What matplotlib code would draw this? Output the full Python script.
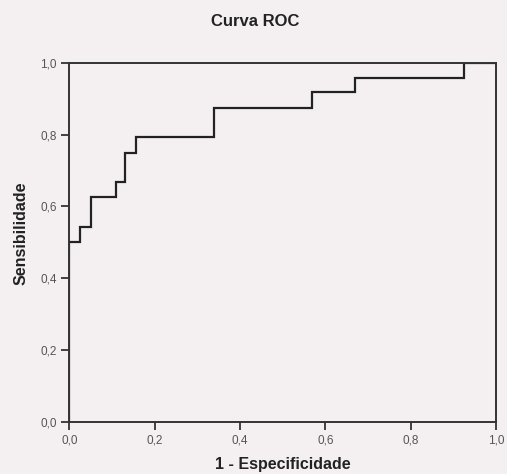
import numpy as np
import matplotlib
matplotlib.use('Agg')
import matplotlib.pyplot as plt

plt.rcParams['font.family'] = ['Liberation Sans', 'DejaVu Sans']

# pontos da curva ROC (1 - especificidade, sensibilidade)
fpr = [0.0, 0.0, 0.025, 0.025, 0.05, 0.05, 0.11, 0.11, 0.13, 0.13,
       0.155, 0.155, 0.34, 0.34, 0.57, 0.57, 0.67, 0.67, 0.925, 0.925, 1.0]
sens = [0.0, 0.5, 0.5, 0.542, 0.542, 0.625, 0.625, 0.667, 0.667, 0.75,
        0.75, 0.792, 0.792, 0.875, 0.875, 0.917, 0.917, 0.958, 0.958, 1.0, 1.0]
ticks = [0.0, 0.2, 0.4, 0.6, 0.8, 1.0]
tick_labels = ['0,0', '0,2', '0,4', '0,6', '0,8', '1,0']

bg = '#f4f0f2'
fig = plt.figure(figsize=(5.07, 4.74), dpi=100, facecolor=bg)
ax = fig.add_axes([0.137, 0.109, 0.841, 0.759])
ax.set_facecolor(bg)

ax.plot(fpr, sens, color='#222222', lw=1.6, solid_joinstyle='miter')

ax.set_xlim(0, 1)
ax.set_ylim(0, 1)
ax.set_xticks(ticks)
ax.set_yticks(ticks)
ax.set_xticklabels(tick_labels)
ax.set_yticklabels(tick_labels)
ax.tick_params(direction='out', length=6, width=1.3, color='#333333',
               labelsize=8.5, labelcolor='#555555', pad=3)
for s in ax.spines.values():
    s.set_linewidth(1.4)
    s.set_color('#333333')

ax.set_xlabel('1 - Especificidade', fontsize=11.5, fontweight='bold', color='#222222')
ax.xaxis.set_label_coords(0.5, -0.095)
ax.set_ylabel('Sensibilidade', fontsize=11.5, fontweight='bold', color='#222222')
ax.yaxis.set_label_coords(-0.097, 0.525)

fig.text(255 / 507, 1 - 22 / 474, 'Curva ROC', ha='center', va='center',
         fontsize=12, fontweight='bold', color='#222222')

fig.savefig('out.png', facecolor=bg)
